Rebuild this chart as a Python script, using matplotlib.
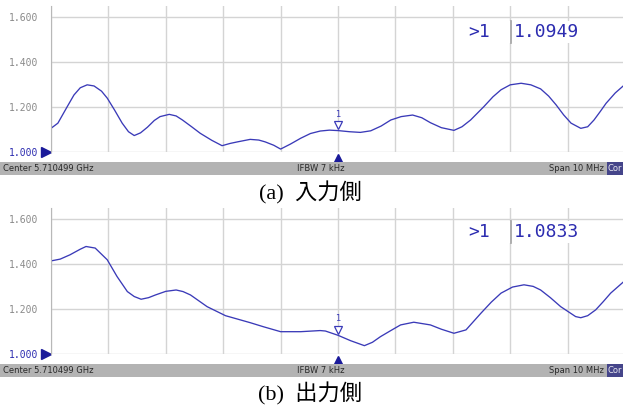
import numpy as np
import matplotlib.pyplot as plt
import matplotlib.transforms as mtransforms
from matplotlib.patches import Rectangle

# frequency offset from center (MHz) and VSWR
freq_in = [-5.0, -4.88, -4.72, -4.60, -4.49, -4.37, -4.25, -4.12, -4.02, -3.89, -3.76,
           -3.65, -3.55, -3.44, -3.32, -3.20, -3.10, -2.94, -2.82, -2.71, -2.55, -2.40,
           -2.20, -2.02, -1.88, -1.75, -1.53, -1.38, -1.27, -1.12, -1.00, -0.83, -0.65,
           -0.48, -0.31, -0.15, 0.0, 0.20, 0.39, 0.57, 0.75, 0.92, 1.10, 1.30, 1.46,
           1.61, 1.80, 2.02, 2.16, 2.31, 2.54, 2.70, 2.84, 3.00, 3.19, 3.36, 3.53,
           3.67, 3.80, 3.93, 4.06, 4.23, 4.35, 4.46, 4.57, 4.67, 4.83, 5.0]
vswr_in = [1.105, 1.128, 1.200, 1.253, 1.285, 1.298, 1.293, 1.270, 1.239, 1.185, 1.128,
           1.090, 1.073, 1.085, 1.110, 1.140, 1.157, 1.167, 1.160, 1.142, 1.112, 1.083,
           1.052, 1.028, 1.038, 1.045, 1.056, 1.053, 1.045, 1.030, 1.013, 1.035, 1.061,
           1.082, 1.093, 1.097, 1.095, 1.090, 1.087, 1.094, 1.115, 1.142, 1.157, 1.164,
           1.152, 1.130, 1.108, 1.096, 1.112, 1.142, 1.201, 1.245, 1.276, 1.298, 1.305,
           1.298, 1.280, 1.248, 1.209, 1.165, 1.128, 1.105, 1.112, 1.142, 1.180, 1.216,
           1.262, 1.300]

freq_out = [-5.0, -4.84, -4.67, -4.49, -4.39, -4.23, -4.02, -3.85, -3.67, -3.55, -3.43,
            -3.30, -3.18, -3.00, -2.82, -2.70, -2.57, -2.28, -1.96, -1.53, -1.30, -1.15,
            -1.00, -0.65, -0.31, -0.22, 0.0, 0.22, 0.46, 0.60, 0.74, 0.92, 1.09, 1.32,
            1.61, 1.80, 2.02, 2.23, 2.49, 2.67, 2.84, 3.04, 3.24, 3.40, 3.53, 3.70,
            3.88, 4.14, 4.23, 4.35, 4.49, 4.62, 4.75, 5.0]
vswr_out = [1.413, 1.421, 1.440, 1.465, 1.477, 1.470, 1.418, 1.344, 1.277, 1.255, 1.243,
            1.250, 1.262, 1.278, 1.284, 1.277, 1.262, 1.210, 1.170, 1.139, 1.121, 1.110,
            1.099, 1.099, 1.104, 1.102, 1.083, 1.059, 1.037, 1.052, 1.077, 1.104, 1.129,
            1.141, 1.129, 1.110, 1.092, 1.107, 1.181, 1.230, 1.270, 1.297, 1.307, 1.300,
            1.284, 1.250, 1.210, 1.166, 1.161, 1.170, 1.196, 1.232, 1.270, 1.326]

marker_val = ["1.0949", "1.0833"]
captions = ["(a)  入力側", "(b)  出力側"]
yticks = [1.0, 1.2, 1.4, 1.6]
ytick_labels = ["1.000", "1.200", "1.400", "1.600"]
bar_texts = ["Center 5.710499 GHz", "IFBW 7 kHz", "Span 10 MHz"]

W, H = 623, 408
fig = plt.figure(figsize=(W / 100, H / 100), dpi=100)
fig.patch.set_facecolor("white")

trace_col = "#3a3ab8"
blue_txt = "#2c2cb0"
grid_col = "#d4d4d4"

panels = [
    (freq_in, vswr_in, 152, 162, 193, marker_val[0], captions[0], 0.819, 468),
    (freq_out, vswr_out, 354, 364, 394, marker_val[1], captions[1], 0.836, 468),
]

for fx, fy, y_bot, bar_top, cap_y, mval, cap, rd_y, rd_x in panels:
    ax_h = 146.5
    ax = fig.add_axes([51 / W, 1 - y_bot / H, 574 / W, ax_h / H])
    ax.set_xlim(-5, 5)
    ax.set_ylim(1.0, 1.65)
    ax.set_xticks(np.arange(-5, 6, 1))
    ax.set_yticks(yticks)
    ax.set_yticklabels(ytick_labels)
    ax.grid(True, color=grid_col, linewidth=1)
    ax.set_axisbelow(True)
    for s in ["top", "right", "bottom"]:
        ax.spines[s].set_visible(False)
    ax.spines["left"].set_color("#b8b8b8")
    ax.tick_params(axis="x", length=0, labelbottom=False)
    ax.tick_params(axis="y", length=0, pad=9, labelsize=7, labelcolor="#8a8a8a")
    for lbl in ax.get_yticklabels():
        lbl.set_family("DejaVu Sans Mono")
    ax.get_yticklabels()[0].set_color(blue_txt)

    ax.plot(fx, fy, color=trace_col, linewidth=0.95)

    # reference level marker on the left and stimulus marker at bottom
    ax.plot([-0.008], [1.0], marker=">", color="#1a1a9a", markersize=7,
            transform=ax.get_yaxis_transform(), clip_on=False)
    tr_down = mtransforms.offset_copy(ax.transData, fig=fig, x=0, y=-6, units="points")
    ax.plot([0.0], [1.0], marker="^", color="#1a1a9a", markersize=8,
            transform=tr_down, clip_on=False)

    # marker 1 on the trace
    mv = float(mval)
    tr_up = mtransforms.offset_copy(ax.transData, fig=fig, x=0, y=4, units="points")
    ax.plot([0.0], [mv], marker="v", markerfacecolor="white", markeredgecolor=trace_col,
            markersize=5.5, markeredgewidth=0.9, transform=tr_up)
    ax.annotate("1", (0.0, mv), xytext=(0, 8.5), textcoords="offset points",
                ha="center", va="bottom", fontsize=6, color=trace_col)

    # marker readout on a white box
    box_x0 = (457 - 51) / 573
    box_x1 = (588 - 51) / 573
    half = 11 / ax_h
    ax.add_patch(Rectangle((box_x0, rd_y - half), box_x1 - box_x0, 2 * half,
                           transform=ax.transAxes, facecolor="white", edgecolor="none",
                           zorder=1.5))
    sep_x = (510 - 51) / 573
    ax.plot([sep_x, sep_x], [rd_y - half, rd_y + half], color="#a0a0a0",
            linewidth=1.2, transform=ax.transAxes, zorder=3)
    ax.text((rd_x - 51) / 573, rd_y, ">1", transform=ax.transAxes, fontsize=13,
            family="DejaVu Sans Mono", color=blue_txt, va="center", ha="left", zorder=4)
    ax.text((513 - 51) / 573, rd_y, mval, transform=ax.transAxes, fontsize=13,
            family="DejaVu Sans Mono", color=blue_txt, va="center", ha="left", zorder=4)

    # status bar
    fig.patches.append(Rectangle((0, 1 - (bar_top + 12.5) / H), 1.0, 12.5 / H,
                                 transform=fig.transFigure, facecolor="#b3b3b3",
                                 edgecolor="none"))
    fig.patches.append(Rectangle((607 / W, 1 - (bar_top + 12.5) / H), 16 / W, 12.5 / H,
                                 transform=fig.transFigure, facecolor="#45458a",
                                 edgecolor="none"))
    ty = 1 - (bar_top + 6.5) / H
    fig.text(3 / W, ty, bar_texts[0], fontsize=6, color="#2a2a2a", va="center", ha="left")
    fig.text(321 / W, ty, bar_texts[1], fontsize=6, color="#2a2a2a", va="center", ha="center")
    fig.text(604 / W, ty, bar_texts[2], fontsize=6, color="#2a2a2a", va="center", ha="right")
    fig.text(608 / W, ty, "Cor", fontsize=6, color="#e8e8f0", va="center", ha="left")

    # caption
    fig.text(310 / W, 1 - cap_y / H, cap, fontsize=16, ha="center", va="center",
             family=["Liberation Serif", "Noto Sans CJK JP"], color="black")

fig.savefig("out.png", dpi=100)
